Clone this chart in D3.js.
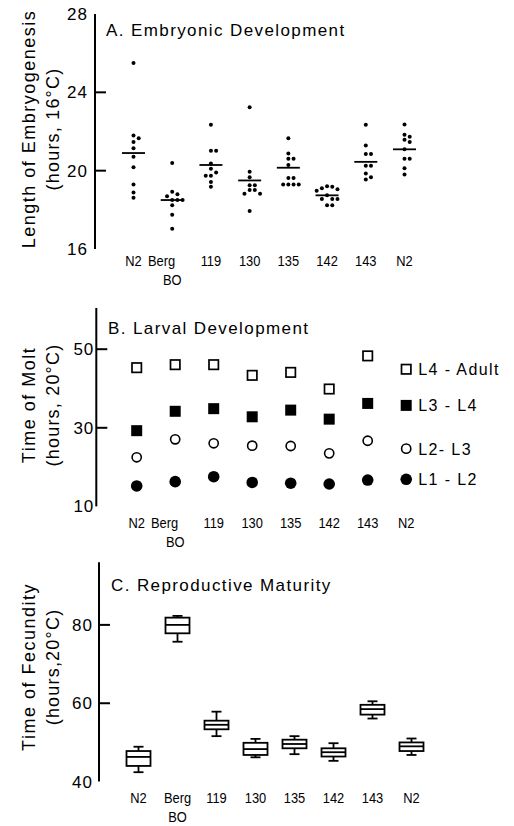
<!DOCTYPE html>
<html><head><meta charset="utf-8">
<script src="https://cdn.jsdelivr.net/npm/d3@7"></script>
<style>
html,body{margin:0;padding:0;background:#fff;}
svg{display:block;font-family:"Liberation Sans",Arial,Helvetica,sans-serif;}
</style></head><body>
<script>
// ---------- DATA ----------
const categories = ["N2", "Berg", "119", "130", "135", "142", "143", "N2"];
const subLabels  = ["", "BO", "", "", "", "", "", ""];

// Panel A: length of embryogenesis (hours, 16°C), individual embryos
const embryoN2a  = [25.5, 21.8, 21.65, 21.46, 21.15, 20.71, 20.18, 19.3, 18.89, 18.62];
const embryoBerg = [20.39, 18.92, 18.8, 18.7, 18.5, 18.5, 18.5, 18.24, 17.75, 17.04];
const embryo119  = [22.34, 21.02, 21.02, 20.37, 20.1, 19.91, 19.74, 19.74, 19.42, 19.18];
const embryo130  = [23.24, 19.95, 19.66, 19.25, 19.25, 19.01, 19.01, 18.82, 18.82, 17.94];
const embryo135  = [21.66, 20.88, 20.61, 20.61, 20.29, 19.62, 19.62, 19.3, 19.3, 19.3, 19.3];
const embryo142  = [19.18, 19.05, 19.1, 19.2, 18.97, 18.74, 18.55, 18.55, 18.55, 18.23, 18.23];
const embryo143  = [22.34, 21.29, 20.85, 20.85, 20.25, 20.25, 19.86, 19.67, 19.55];
const embryoN2b  = [22.36, 21.83, 21.73, 21.58, 21.47, 21.09, 20.61, 20.61, 20.12, 19.81];
const embryoMeans = [20.9, 18.5, 20.29, 19.5, 20.15, 18.74, 20.45, 21.09];
const embryoTicks = [16, 20, 24, 28];

// Panel B: time of molt (hours, 20°C)
const moltStages = ["L4 - Adult", "L3 - L4", "L2- L3", "L1 - L2"];
const moltL4Adult = [45.3, 46.06, 46.06, 43.35, 44.1, 39.87, 48.3, 44.9];
const moltL3L4    = [29.27, 34.2, 34.87, 32.8, 34.5, 32.2, 36.2, 35.7];
const moltL2L3    = [22.5, 27.07, 26.06, 25.45, 25.37, 23.5, 26.7, 24.7];
const moltL1L2    = [15.2, 16.3, 17.56, 16.1, 15.9, 15.7, 16.7, 16.9];
const moltTicks = [10, 30, 50];

// Panel C: time of fecundity (hours, 20°C), box summaries
const fecLow    = [42.4, 75.7, 51.6, 46.2, 47.0, 45.3, 56.1, 46.8];
const fecQ1     = [44.0, 77.85, 53.35, 46.8, 48.5, 46.4, 57.1, 47.8];
const fecMedian = [46.3, 80.0, 54.5, 48.3, 49.6, 47.5, 58.5, 49.0];
const fecQ3     = [47.8, 81.85, 55.55, 49.9, 50.7, 48.5, 59.6, 50.0];
const fecHigh   = [48.9, 82.3, 57.85, 50.9, 51.6, 49.8, 60.5, 51.0];
const fecTicks = [40, 60, 80];

// ---------- SETUP ----------
const W = 514, H = 826;
const svg = d3.select("body").append("svg").attr("width", W).attr("height", H);
const idx = d3.range(categories.length);

function yAxisPanel(y, ticks, innerTicks, axisX, pad, top) {
  const g = svg.append("g");
  g.append("line").attr("x1", axisX).attr("x2", axisX)
    .attr("y1", y(top)).attr("y2", y(y.domain()[0]))
    .attr("stroke", "#000").attr("stroke-width", 2);
  g.selectAll(".tk").data(innerTicks).enter().append("line")
    .attr("x1", axisX).attr("x2", axisX + 11)
    .attr("y1", d => y(d)).attr("y2", d => y(d))
    .attr("stroke", "#000").attr("stroke-width", 2);
  const ax = svg.append("g").attr("transform", `translate(${axisX},0)`)
    .call(d3.axisLeft(y).tickValues(ticks).tickSize(0).tickPadding(pad).tickFormat(d3.format("d")));
  ax.select(".domain").remove();
  ax.selectAll("text").attr("font-size", 17).attr("font-family", "Liberation Sans, Arial, sans-serif")
    .attr("fill", "#000").style("letter-spacing", "1px");
}

function yTitle(l1, l2, cy) {
  svg.append("text").attr("transform", `translate(34.5,${cy}) rotate(-90)`)
    .attr("text-anchor", "middle").attr("font-size", 18).style("letter-spacing", "1.5px").text(l1);
  svg.append("text").attr("transform", `translate(58.5,${cy}) rotate(-90)`)
    .attr("text-anchor", "middle").attr("font-size", 18).style("letter-spacing", "1.2px").text(l2);
}

const condense = 0.86;
function xLabels(x, base, bergLeft) {
  const g = svg.append("g").attr("font-size", 15);
  g.selectAll(".xl").data(idx).enter().append("text")
    .attr("text-anchor", i => (categories[i] === "Berg" && bergLeft) ? "end" : "middle")
    .attr("transform", i => `translate(${x(i) + ((categories[i] === "Berg" && bergLeft) ? 3 : 0)},${base}) scale(${condense},1)`)
    .text(i => categories[i]);
  g.selectAll(".xs").data(idx.filter(i => subLabels[i])).enter().append("text")
    .attr("text-anchor", "middle")
    .attr("transform", i => `translate(${x(i)},${base + 19}) scale(${condense},1)`)
    .text(i => subLabels[i]);
}

function panelTitle(t, x, base) {
  svg.append("text").attr("x", x).attr("y", base).attr("font-size", 17)
    .style("letter-spacing", "1.4px").text(t);
}

// ---------- PANEL A ----------
const xA = d3.scalePoint().domain(idx).range([133.5, 404.5]);
const yA = d3.scaleLinear().domain([16, 28]).range([249, 14]);
yAxisPanel(yA, embryoTicks, [20, 24], 95, 7, 28);
yTitle("Length of Embryogenesis", "(hours, 16°C)", 129);
panelTitle("A. Embryonic Development", 106, 36);
xLabels(xA, 266, true);

const embryoSets = [embryoN2a, embryoBerg, embryo119, embryo130, embryo135, embryo142, embryo143, embryoN2b];
const r = 2.0, step = 5.2, minD = 4.6;
embryoSets.forEach((vals, i) => {
  const sorted = vals.slice().sort((a, b) => b - a);
  const placed = [];
  sorted.forEach(v => {
    const yy = yA(v);
    for (const k of [0, 1, -1, 2, -2, 3, -3]) {
      const xx = k * step;
      if (placed.every(p => (p.x - xx) ** 2 + (p.y - yy) ** 2 >= minD * minD)) {
        placed.push({x: xx, y: yy}); break;
      }
    }
  });
  svg.append("g").selectAll("circle").data(placed).enter().append("circle")
    .attr("cx", p => xA(i) + p.x).attr("cy", p => p.y).attr("r", r).attr("fill", "#000");
});
svg.append("g").selectAll("line").data(idx).enter().append("line")
  .attr("x1", i => xA(i) - 11.5).attr("x2", i => xA(i) + 11.5)
  .attr("y1", i => yA(embryoMeans[i])).attr("y2", i => yA(embryoMeans[i]))
  .attr("stroke", "#000").attr("stroke-width", 1.8);

// ---------- PANEL B ----------
const xB = d3.scalePoint().domain(idx).range([136.7, 406.2]);
const yB = d3.scaleLinear().domain([10, 60]).range([506.4, 309.9]);
yAxisPanel(yB, moltTicks, [30, 50], 96.3, 2, 60.5);
yTitle("Time of Molt", "(hours, 20°C)", 405);
panelTitle("B. Larval Development", 108, 334);
xLabels(xB, 528, true);

const moltSeries = [
  {vals: moltL4Adult, shape: "square", fill: false},
  {vals: moltL3L4, shape: "square", fill: true},
  {vals: moltL2L3, shape: "circle", fill: false},
  {vals: moltL1L2, shape: "circle", fill: true}
];
moltSeries.forEach((s, si) => {
  const g = svg.append("g");
  if (s.shape === "square") {
    const sz = s.fill ? 11 : 9.4;
    g.selectAll("rect").data(idx).enter().append("rect")
      .attr("x", i => xB(i) - sz / 2).attr("y", i => yB(s.vals[i]) - sz / 2)
      .attr("width", sz).attr("height", sz)
      .attr("fill", s.fill ? "#000" : "#fff")
      .attr("stroke", s.fill ? "none" : "#000").attr("stroke-width", 1.7);
  } else {
    g.selectAll("circle").data(idx).enter().append("circle")
      .attr("cx", i => xB(i)).attr("cy", i => yB(s.vals[i]))
      .attr("r", s.fill ? 5.8 : 4.6)
      .attr("fill", s.fill ? "#000" : "#fff")
      .attr("stroke", s.fill ? "none" : "#000").attr("stroke-width", 1.6);
  }
  const last = s.vals.length - 1;
  svg.append("text").attr("x", xB(last) + 12).attr("y", yB(s.vals[last]) + 6)
    .attr("font-size", 16).style("letter-spacing", "1.4px").text(moltStages[si]);
});

// ---------- PANEL C ----------
const xC = d3.scalePoint().domain(idx).range([138.5, 411.5]);
const yC = d3.scaleLinear().domain([40, 96]).range([781.6, 562.2]);
yAxisPanel(yC, fecTicks, [60, 80], 99, 6, 96);
yTitle("Time of Fecundity", "(hours,20°C)", 667);
panelTitle("C. Reproductive Maturity", 111, 591);
xLabels(xC, 803, false);

const bw = 24, cw = 10;
const gC = svg.append("g").attr("stroke", "#000").attr("stroke-width", 1.8).attr("fill", "none");
idx.forEach(i => {
  const x = xC(i);
  gC.append("line").attr("x1", x).attr("x2", x).attr("y1", yC(fecHigh[i])).attr("y2", yC(fecQ3[i]));
  gC.append("line").attr("x1", x).attr("x2", x).attr("y1", yC(fecQ1[i])).attr("y2", yC(fecLow[i]));
  gC.append("line").attr("x1", x - cw / 2).attr("x2", x + cw / 2).attr("y1", yC(fecHigh[i])).attr("y2", yC(fecHigh[i]));
  gC.append("line").attr("x1", x - cw / 2).attr("x2", x + cw / 2).attr("y1", yC(fecLow[i])).attr("y2", yC(fecLow[i]));
  gC.append("rect").attr("x", x - bw / 2).attr("y", yC(fecQ3[i]))
    .attr("width", bw).attr("height", yC(fecQ1[i]) - yC(fecQ3[i])).attr("fill", "#fff");
  gC.append("line").attr("x1", x - bw / 2).attr("x2", x + bw / 2).attr("y1", yC(fecMedian[i])).attr("y2", yC(fecMedian[i]));
});
</script>
</body></html>
